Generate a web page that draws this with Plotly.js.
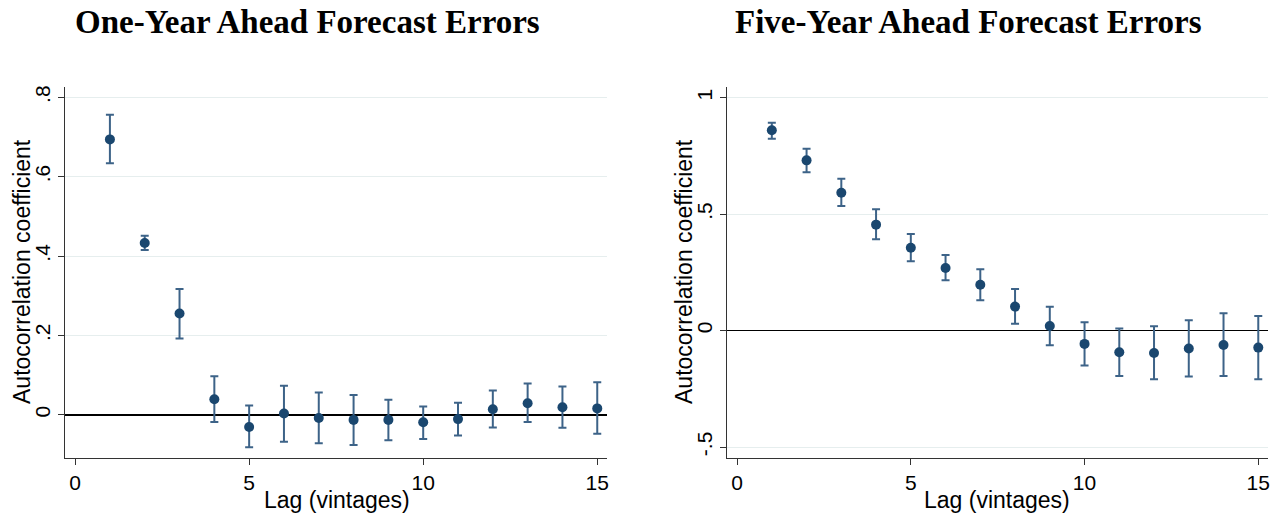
<!DOCTYPE html>
<html>
<head>
<meta charset="utf-8">
<script src="https://cdn.plot.ly/plotly-3.0.1.min.js"></script>
<style>html,body{margin:0;padding:0;background:#fff;}#chart{width:1283px;height:517px;}</style>
</head>
<body>
<div id="chart"></div>
<script>
const lags = [1,2,3,4,5,6,7,8,9,10,11,12,13,14,15];

const oneYearCoef = [0.694,0.433,0.255,0.039,-0.031,0.003,-0.008,-0.013,-0.013,-0.019,-0.011,0.014,0.029,0.019,0.016];
const oneYearHi   = [0.756,0.451,0.317,0.097,0.023,0.073,0.056,0.050,0.038,0.021,0.030,0.061,0.079,0.071,0.082];
const oneYearLo   = [0.634,0.415,0.192,-0.018,-0.082,-0.068,-0.072,-0.076,-0.064,-0.061,-0.052,-0.032,-0.018,-0.033,-0.048];

const fiveYearCoef = [0.860,0.731,0.592,0.455,0.356,0.269,0.197,0.103,0.020,-0.057,-0.093,-0.096,-0.077,-0.062,-0.073];
const fiveYearHi   = [0.893,0.781,0.652,0.521,0.415,0.325,0.263,0.179,0.102,0.036,0.009,0.019,0.044,0.074,0.063];
const fiveYearLo   = [0.824,0.680,0.535,0.392,0.298,0.216,0.130,0.029,-0.063,-0.150,-0.195,-0.209,-0.197,-0.195,-0.209];

const xTickVals = [0,5,10,15];
const xTickText = ['0','5','10','15'];
const leftYTickVals = [0,0.2,0.4,0.6,0.8];
const leftYTickText = ['0','.2','.4','.6','.8'];
const rightYTickVals = [-0.5,0,0.5,1];
const rightYTickText = ['-.5','0','.5','1'];

const titles = ['One-Year Ahead Forecast Errors','Five-Year Ahead Forecast Errors'];
const xTitle = 'Lag (vintages)';
const yTitle = 'Autocorrelation coefficient';

const navy = '#1a476f';
const barColor = '#3d6388';

function makeTrace(coef, hi, lo, xa, ya){
  return {
    x: lags, y: coef, xaxis: xa, yaxis: ya,
    type: 'scatter', mode: 'markers',
    marker: {color: navy, size: 10},
    error_y: {
      type: 'data', symmetric: false,
      array: hi.map((h,i)=>h-coef[i]),
      arrayminus: lo.map((l,i)=>coef[i]-l),
      color: barColor, thickness: 2, width: 4
    },
    showlegend: false, hoverinfo: 'skip'
  };
}

const data = [
  makeTrace(oneYearCoef, oneYearHi, oneYearLo, 'x', 'y'),
  makeTrace(fiveYearCoef, fiveYearHi, fiveYearLo, 'x2', 'y2')
];

const tickFont = {family: 'Liberation Sans, Arial, sans-serif', size: 21, color: '#000'};
const axTitleFont = {family: 'Liberation Sans, Arial, sans-serif', size: 23, color: '#000'};
const titleFont = {family: 'Liberation Serif, Times New Roman, serif', size: 33, color: '#000'};
const W = 1283, H = 517;
const yDom = [1-458/H, 1-87/H];

function xAxis(dom){
  return {
    domain: dom, range: [-0.29, 15.28],
    tickvals: xTickVals, ticktext: xTickText,
    ticks: 'outside', ticklen: 6, tickcolor: '#333', tickwidth: 1,
    showline: true, linecolor: '#333', linewidth: 1,
    showgrid: false, zeroline: false,
    tickfont: tickFont, fixedrange: true
  };
}
function yAxis(dom, range, vals, text, anchor){
  return {
    domain: dom, range: range, anchor: anchor,
    tickvals: vals, ticktext: text, tickangle: -90,
    ticks: 'outside', ticklen: 6, tickcolor: '#333', tickwidth: 1,
    showline: true, linecolor: '#333', linewidth: 1,
    showgrid: true, gridcolor: '#e6eeee', gridwidth: 1,
    zeroline: true, zerolinecolor: '#000', zerolinewidth: 1.5,
    tickfont: tickFont, fixedrange: true
  };
}

const layout = {
  width: W, height: H,
  margin: {l: 0, r: 0, t: 0, b: 0},
  paper_bgcolor: '#fff', plot_bgcolor: '#fff',
  xaxis: Object.assign(xAxis([65/W, 607/W]), {anchor: 'y'}),
  yaxis: yAxis(yDom, [-0.109, 0.826], leftYTickVals, leftYTickText, 'x'),
  xaxis2: Object.assign(xAxis([727/W, 1268/W]), {anchor: 'y2'}),
  yaxis2: yAxis(yDom, [-0.547, 1.046], rightYTickVals, rightYTickText, 'x2'),
  annotations: [
    {text: '<b>'+titles[0]+'</b>', x: 307/W, y: 1-22/H, xref: 'paper', yref: 'paper', showarrow: false,
     xanchor: 'center', yanchor: 'middle', font: titleFont},
    {text: '<b>'+titles[1]+'</b>', x: 968/W, y: 1-22/H, xref: 'paper', yref: 'paper', showarrow: false,
     xanchor: 'center', yanchor: 'middle', font: titleFont},
    {text: yTitle, x: 22/W, y: 1-272/H, xref: 'paper', yref: 'paper', showarrow: false, textangle: -90,
     xanchor: 'center', yanchor: 'middle', font: axTitleFont},
    {text: yTitle, x: 684/W, y: 1-272/H, xref: 'paper', yref: 'paper', showarrow: false, textangle: -90,
     xanchor: 'center', yanchor: 'middle', font: axTitleFont},
    {text: xTitle, x: 337/W, y: 1-500/H, xref: 'paper', yref: 'paper', showarrow: false,
     xanchor: 'center', yanchor: 'middle', font: axTitleFont},
    {text: xTitle, x: 997/W, y: 1-500/H, xref: 'paper', yref: 'paper', showarrow: false,
     xanchor: 'center', yanchor: 'middle', font: axTitleFont}
  ]
};

Plotly.newPlot('chart', data, layout, {displayModeBar: false, staticPlot: true});
</script>
</body>
</html>
